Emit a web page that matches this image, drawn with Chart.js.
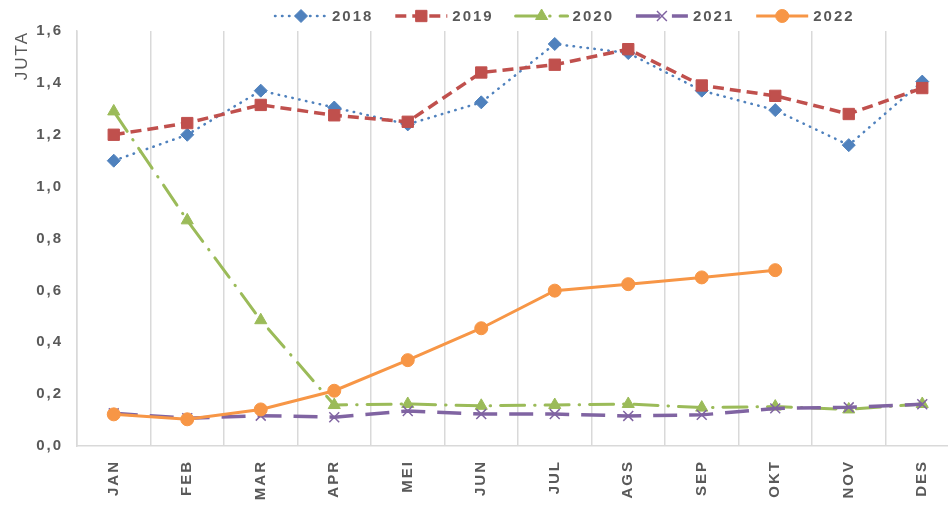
<!DOCTYPE html>
<html>
<head>
<meta charset="utf-8">
<script src="https://cdn.jsdelivr.net/npm/chart.js@4.4.1/dist/chart.umd.min.js"></script>
<style>
  html, body { margin: 0; padding: 0; background: #fff; overflow: hidden; }
  #wrap { position: relative; width: 948px; height: 507px; overflow: hidden; }
  canvas { display: block; }
</style>
</head>
<body>
<div id="wrap"><canvas id="chart" width="968" height="507"></canvas></div>
<script>
// data (JUTA = millions)
const MONTHS = ["JAN", "FEB", "MAR", "APR", "MEI", "JUN", "JUL", "AGS", "SEP", "OKT", "NOV", "DES"];
const YEARS = ["2018", "2019", "2020", "2021", "2022"];

const V2018 = [1.10, 1.20, 1.37, 1.305, 1.24, 1.325, 1.55, 1.515, 1.37, 1.295, 1.16, 1.405];
const V2019 = [1.20, 1.245, 1.315, 1.275, 1.25, 1.44, 1.47, 1.53, 1.39, 1.35, 1.28, 1.38];
const V2020 = [1.29, 0.87, 0.485, 0.158, 0.162, 0.155, 0.158, 0.162, 0.148, 0.152, 0.141, 0.162];
const V2021 = [0.126, 0.107, 0.117, 0.111, 0.135, 0.123, 0.123, 0.116, 0.12, 0.145, 0.149, 0.161];
const V2022 = [0.122, 0.103, 0.141, 0.213, 0.331, 0.454, 0.599, 0.624, 0.65, 0.678, null, null];

const Y_MIN = 0;
const Y_MAX = 1.6;
const Y_STEP = 0.2;
const Y_TITLE = "JUTA";

const TEXT_COLOR = "#595959";
const GRID_COLOR = "#d9d9d9";

// draws the Excel-style legend (line sample + marker + label)
const excelLegend = {
  id: "excelLegend",
  afterDraw(chart) {
    const ctx = chart.ctx;
    const startX = 275;
    const step = 120.3;
    const y = 16;
    ctx.save();
    chart.data.datasets.forEach((ds, i) => {
      const x0 = startX + i * step;
      ctx.strokeStyle = ds.borderColor;
      ctx.lineWidth = ds.borderWidth;
      ctx.lineCap = ds.borderCapStyle || "butt";
      ctx.setLineDash(ds.borderDash || []);
      ctx.beginPath();
      ctx.moveTo(x0, y);
      ctx.lineTo(x0 + 52, y);
      ctx.stroke();

      ctx.setLineDash([]);
      ctx.lineCap = "butt";
      ctx.fillStyle = ds.pointBackgroundColor;
      ctx.strokeStyle = ds.pointBorderColor;
      ctx.lineWidth = ds.pointBorderWidth;
      Chart.helpers.drawPoint(ctx, {
        pointStyle: ds.pointStyle,
        radius: ds.pointRadius,
        borderWidth: ds.pointBorderWidth,
        rotation: 0,
      }, x0 + 26, y);

      ctx.fillStyle = TEXT_COLOR;
      ctx.font = "bold 15px 'Liberation Sans', Arial, sans-serif";
      ctx.textBaseline = "middle";
      ctx.textAlign = "left";
      ctx.fillText(ds.label, x0 + 57, y + 1);
    });
    ctx.restore();
  },
};

// wider letter spacing like the reference text
const spacing = {
  id: "spacing",
  beforeLayout(chart) { chart.ctx.letterSpacing = "2px"; },
  beforeDraw(chart) { chart.ctx.letterSpacing = "2px"; },
};

function series(label, data, color, opts) {
  return Object.assign({
    label,
    data,
    borderColor: color,
    backgroundColor: color,
    pointBackgroundColor: color,
    pointBorderColor: color,
    tension: 0,
    spanGaps: false,
  }, opts);
}

const datasets = [
  series(YEARS[0], V2018, "#4f81bd", {
    borderWidth: 2.5, borderDash: [0.5, 6.5], borderCapStyle: "round",
    pointStyle: "rectRot", pointRadius: 6.5, pointBorderWidth: 1, order: 4,
  }),
  series(YEARS[1], V2019, "#c0504d", {
    borderWidth: 3.5, borderDash: [11, 6],
    pointStyle: "rect", pointRadius: 8, pointBorderWidth: 1, order: 3,
  }),
  series(YEARS[2], V2020, "#9bbb59", {
    borderWidth: 3, borderDash: [24, 10, 0.5, 10], borderCapStyle: "round",
    pointStyle: "triangle", pointRadius: 7, pointBorderWidth: 1, order: 2,
  }),
  series(YEARS[3], V2021, "#8064a2", {
    borderWidth: 3.5, borderDash: [24, 12],
    pointStyle: "crossRot", pointRadius: 7, pointBorderWidth: 1.5, order: 1,
  }),
  series(YEARS[4], V2022, "#f79646", {
    borderWidth: 3,
    pointStyle: "circle", pointRadius: 6.5, pointBorderWidth: 1, order: 0,
  }),
];

Chart.defaults.font.family = "'Liberation Sans', Arial, sans-serif";
Chart.defaults.color = TEXT_COLOR;

new Chart(document.getElementById("chart"), {
  type: "line",
  data: { labels: MONTHS, datasets },
  plugins: [spacing, excelLegend],
  options: {
    responsive: false,
    animation: false,
    layout: { padding: { top: 31, right: 0, bottom: 0, left: 0 } },
    plugins: {
      legend: { display: false },
      tooltip: { enabled: false },
    },
    scales: {
      x: {
        offset: true,
        grid: { display: true, offset: true, drawTicks: false, color: GRID_COLOR, lineWidth: 1.5 },
        border: { display: true, color: GRID_COLOR, width: 1.5 },
        ticks: {
          minRotation: 90,
          maxRotation: 90,
          autoSkip: false,
          padding: 14,
          color: TEXT_COLOR,
          font: { size: 15, weight: "bold" },
        },
        afterFit(scale) { scale.height = 61; },
      },
      y: {
        min: Y_MIN,
        max: Y_MAX,
        grid: { display: false },
        border: { display: true, color: GRID_COLOR, width: 1.5 },
        ticks: {
          stepSize: Y_STEP,
          padding: 6,
          color: TEXT_COLOR,
          font: { size: 15, weight: "bold" },
          callback: (v) => Number(v).toFixed(1).replace(".", ","),
        },
        title: {
          display: true,
          text: Y_TITLE,
          align: "end",
          color: TEXT_COLOR,
          font: { size: 17, weight: "normal" },
          padding: { top: 12, bottom: 0 },
        },
        afterFit(scale) { scale.width = 77; },
      },
    },
  },
});
</script>
</body>
</html>
